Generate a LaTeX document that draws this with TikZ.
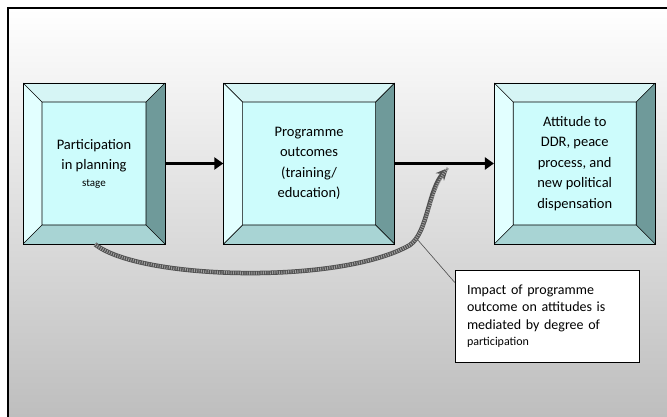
\documentclass[tikz,border=0pt]{standalone}
\usepackage{fontspec}
\setmainfont{Carlito}
\usepackage{tikz}
\usetikzlibrary{arrows.meta,positioning,calc}
\definecolor{ddrInnerFill}{RGB}{205,252,252}
\definecolor{ddrTopFace}{RGB}{214,245,245}
\definecolor{ddrLeftFace}{RGB}{226,255,255}
\definecolor{ddrRightFace}{RGB}{111,154,154}
\definecolor{ddrBottomFace}{RGB}{168,212,212}
\definecolor{ddrShadeBottom}{RGB}{190,190,190}
\definecolor{ddrRopeDark}{RGB}{80,80,80}
\definecolor{ddrRopeLight}{RGB}{160,160,160}
\tikzset{
  bevelbox/.style={rectangle, draw=black, fill=ddrInnerFill, line width=0.6pt,
    minimum height=161pt, align=center, font=\fontsize{14.5}{20.5}\selectfont, inner sep=0pt,
    path picture={
      \path (path picture bounding box.north west) coordinate (bnw)
        (path picture bounding box.north east) coordinate (bne)
        (path picture bounding box.south east) coordinate (bse)
        (path picture bounding box.south west) coordinate (bsw)
        ([shift={(19pt,-19pt)}]bnw) coordinate (inw)
        ([shift={(-19pt,-19pt)}]bne) coordinate (ine)
        ([shift={(-19pt,19pt)}]bse) coordinate (ise)
        ([shift={(19pt,19pt)}]bsw) coordinate (isw);
      \fill[ddrTopFace] (bnw) -- (bne) -- (ine) -- (inw) -- cycle;
      \fill[ddrLeftFace] (bnw) -- (inw) -- (isw) -- (bsw) -- cycle;
      \fill[ddrRightFace] (bne) -- (bse) -- (ise) -- (ine) -- cycle;
      \fill[ddrBottomFace] (bsw) -- (isw) -- (ise) -- (bse) -- cycle;
      \draw[line width=0.6pt] (inw) rectangle (ise)
        (bnw) -- (inw) (bne) -- (ine) (bse) -- (ise) (bsw) -- (isw);
    }},
  notebox/.style={rectangle, draw=black, fill=white, line width=0.6pt,
    minimum width=184pt, minimum height=92pt, text width=160pt, align=left,
    font=\fontsize{14}{17.5}\selectfont, inner sep=0pt},
  flowarrow/.style={-{Triangle[length=9pt,width=12pt]}, draw=black, line width=3.6pt},
  ropearrow/.style={-{Stealth[length=12pt,width=11pt]}, draw=ddrRopeDark, line width=4.5pt,
    postaction={draw=ddrRopeLight, -, line width=3pt, dash pattern=on 0.9pt off 1.4pt}},
  calloutline/.style={draw=black!70, line width=0.6pt},
}
\begin{document}
\begin{tikzpicture}[x=1pt, y=1pt]
  \useasboundingbox (0,0) rectangle (667,417);
  % backdrop and frame
  \shade[top color=white, bottom color=ddrShadeBottom] (8,0) rectangle (667,409);
  \draw[line width=1.2pt] (8,0) -- (8,409) -- (667,409);

  \node[bevelbox, minimum width=142pt] (plan) at (94,253.5) {Participation\\in planning\\[-4pt]{\fontsize{11}{12}\selectfont stage}};
  \node[bevelbox, minimum width=171pt, right=58pt of plan] (outcome) {Programme\\outcomes\\(training/\\education)};
  \node[bevelbox, minimum width=161pt, right=99pt of outcome] (attitude) {Attitude to\\DDR, peace\\process, and\\new political\\dispensation};

  \node[notebox] (note) at (547,101) {Impact of programme\\outcome on attitudes is\\mediated by degree of\\[-1.5pt]{\fontsize{12}{14}\selectfont participation}};

  \draw[flowarrow] (plan.east) -- (outcome.west);
  \draw[flowarrow] (outcome.east) -- (attitude.west);

  \coordinate (ropept) at (417,178);
  \coordinate (ropetip) at (448,249);
  \draw[calloutline] (note.160) -- (ropept);
  \draw[ropearrow] ([xshift=1pt]plan.south) .. controls (140,137) and (340,132) .. (410,172)
    .. controls (428,185) and (428,227) .. (ropetip);
\end{tikzpicture}
\end{document}
